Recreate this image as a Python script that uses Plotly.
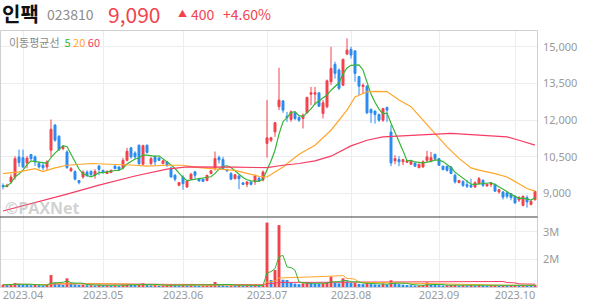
import pandas as pd
import plotly.graph_objects as go

# ---------------- data ----------------
holidays = ["2023-05-01", "2023-05-05", "2023-05-29", "2023-06-06", "2023-08-15",
            "2023-09-28", "2023-09-29", "2023-10-02", "2023-10-03", "2023-10-09"]
days = pd.bdate_range("2023-03-27", "2023-10-12", freq="C", holidays=holidays)
dates = [d.strftime("%Y-%m-%d") for d in days]

opens = [9330, 9290, 9480, 9680, 10500, 10470, 10250, 10600, 10500, 10230, 10160, 10090,
         10770, 11800, 11340, 10840, 10700, 9930, 9900, 9540, 9680, 9880,
         9910, 9750, 10130, 9950, 9820, 9860, 10130, 10090, 10050, 10360, 10870, 10660,
         10980, 10200, 10980, 10230, 10500, 10460, 10230, 10300, 10050, 9750, 9340, 9680,
         9270, 9590, 9890, 9610, 9590, 9540, 9820, 10050, 10470, 10390, 9980, 9820,
         9610, 9720, 9440, 9380, 9480, 9480, 9630, 9560,
         11050, 11180, 11520, 12550, 12790, 12160, 12030, 12300, 12110, 12070,
         12300, 13060, 13060, 13120, 12270, 12550, 13570, 14280, 14050, 13430, 14700, 14890,
         14830, 13780, 13370, 13390, 12440, 12370, 12230, 12000, 12520, 11520, 10340, 10390,
         10300, 10280, 10200, 10250, 10060, 10090, 10360, 10340, 10610, 10430, 10120, 10120,
         10090, 9750, 9450, 9500, 9370, 9340, 9270, 9410, 9550, 9310, 9370, 9380,
         9070, 9070, 9030, 9000, 8890, 8740, 8520, 8840, 8560, 8750]
highs = [9420, 9400, 9790, 10530, 10800, 10800, 10530, 10600, 10560, 10300, 10250, 10360,
         12030, 11840, 11390, 10980, 10770, 10090, 9950, 9550, 9950, 9950,
         9950, 10000, 10160, 9980, 9950, 9980, 10150, 10110, 10460, 10870, 10910, 10730,
         11000, 11000, 11000, 10500, 10570, 10480, 10360, 10330, 10090, 9800, 9480, 9750,
         9560, 9850, 9930, 9650, 9610, 9770, 9970, 10720, 10550, 10500, 10020, 9880,
         9800, 9750, 9470, 9500, 9500, 9790, 9700, 9950,
         12820, 11320, 11930, 14140, 12800, 12340, 12400, 12340, 12160, 12270,
         12960, 13360, 13360, 13120, 12820, 13660, 15000, 14390, 14110, 14520, 15340, 15000,
         14860, 13800, 13500, 13430, 12480, 12400, 12270, 12480, 12550, 11800, 10570, 10530,
         10390, 10360, 10340, 10270, 10220, 10360, 10750, 10700, 10610, 10450, 10150, 10130,
         10120, 9820, 9560, 9540, 9550, 9610, 9500, 9680, 9570, 9400, 9480, 9410,
         9200, 9100, 9070, 9000, 8930, 8900, 8930, 8930, 8720, 9120]
lows = [9170, 9260, 9410, 9570, 10090, 10040, 10040, 10360, 10130, 10020, 9950, 9950,
        10500, 11120, 10740, 10770, 10020, 9890, 9540, 9380, 9610, 9680,
        9700, 9610, 9750, 9820, 9800, 9840, 10000, 9970, 9990, 10320, 10430, 10400,
        10160, 10160, 10640, 10160, 10160, 10340, 10200, 10090, 9660, 9500, 9300, 9160,
        9230, 9560, 9610, 9490, 9480, 9500, 9790, 9950, 10230, 9970, 9900, 9550,
        9580, 9180, 9350, 9260, 9330, 9360, 9480, 9500,
        10470, 11100, 11320, 12410, 12300, 11930, 11930, 12000, 11930, 11660,
        12270, 12610, 12610, 12550, 12070, 12480, 13430, 13700, 13230, 13390, 14660, 14520,
        13570, 13020, 13090, 12250, 11890, 11860, 11930, 11930, 11930, 10120, 10200, 10120,
        10160, 10250, 10180, 10100, 10040, 10060, 10300, 10280, 10360, 10140, 9960, 9900,
        9800, 9410, 9420, 9270, 9230, 9230, 9230, 9380, 9270, 9300, 9270, 9070,
        9000, 8760, 8800, 8730, 8590, 8660, 8480, 8430, 8520, 8720]
closes = [9290, 9340, 9680, 10430, 10270, 10090, 10450, 10430, 10300, 10090, 10060, 10300,
          11630, 11180, 10800, 10910, 10060, 10020, 9590, 9450, 9880, 9750,
          9780, 9910, 9990, 9860, 9910, 9950, 10020, 9990, 10360, 10730, 10500, 10500,
          10230, 10960, 10680, 10430, 10300, 10360, 10340, 10160, 9680, 9590, 9450, 9410,
          9520, 9790, 9750, 9520, 9500, 9750, 9930, 10430, 10380, 10020, 9930, 9590,
          9770, 9610, 9380, 9480, 9380, 9720, 9520, 9880,
          11280, 11280, 11900, 12820, 12410, 12110, 12340, 12070, 12000, 12200,
          12930, 13120, 13120, 12570, 12710, 13610, 14110, 13910, 13300, 14480, 14860, 14660,
          13910, 13390, 13430, 12300, 12300, 12230, 12000, 12480, 12410, 10250, 10430, 10300,
          10390, 10340, 10320, 10120, 10200, 10300, 10500, 10470, 10430, 10160, 9980, 9950,
          9820, 9480, 9540, 9340, 9300, 9270, 9450, 9610, 9340, 9380, 9440, 9100,
          9160, 8860, 8890, 8840, 8620, 8840, 8890, 8660, 8690, 9090]
volumes = [1080000, 1070000, 1090000, 1140000, 1110000, 1090000, 1080000, 1060000, 1070000, 1060000, 1050000, 1070000,
           1430000, 1160000, 1100000, 1070000, 1310000, 1120000, 1090000, 1070000, 1080000, 1060000,
           1060000, 1050000, 1070000, 1050000, 1050000, 1040000, 1050000, 1040000, 1080000, 1100000, 1090000, 1070000,
           1110000, 1130000, 1090000, 1060000, 1070000, 1050000, 1050000, 1060000, 1080000, 1070000, 1050000, 1060000,
           1050000, 1060000, 1050000, 1040000, 1040000, 1050000, 1060000, 1180000, 1080000, 1070000, 1050000, 1060000,
           1050000, 1060000, 1040000, 1050000, 1040000, 1060000, 1050000, 1070000,
           3330000, 1250000, 1610000, 3240000, 1260000, 1250000, 1150000, 1120000, 1100000, 1130000,
           1160000, 1140000, 1120000, 1110000, 1130000, 1170000, 1370000, 1150000, 1130000, 1310000, 1200000, 1140000,
           1140000, 1110000, 1100000, 1180000, 1100000, 1090000, 1080000, 1120000, 1090000, 1240000, 1150000, 1100000,
           1080000, 1070000, 1060000, 1050000, 1050000, 1070000, 1160000, 1080000, 1070000, 1060000, 1050000, 1060000,
           1070000, 1080000, 1050000, 1060000, 1050000, 1060000, 1050000, 1070000, 1060000, 1040000, 1050000, 1060000,
           1050000, 1060000, 1050000, 1060000, 1070000, 1050000, 1060000, 1050000, 1040000, 1080000]

# moving averages (trading-day index, price)
ma20_idx = [0, 4, 8, 10, 13, 16, 22, 28, 33, 36, 41, 45, 49, 58, 64, 66, 70, 74, 78, 82, 86,
            88, 91, 93, 96, 99, 102, 105, 108, 111, 114, 117, 119, 123, 126, 129, 131, 133]
ma20_val = [9820, 9890, 10020, 9900, 10050, 10160, 10230, 10200, 10160, 10120, 10160, 10160, 10060,
            9950, 9710, 9680, 10090, 10610, 10980, 11590, 12410, 12950, 13160, 13180, 13170, 12820,
            12550, 12000, 11460, 10910, 10440, 10050, 9960, 9820, 9680, 9410, 9210, 9100]
ma60_idx = [0, 8, 16, 24, 33, 41, 46, 58, 66, 70, 74, 78, 82, 87, 91, 95, 99, 107, 112, 118,
            126, 129, 133]
ma60_val = [8290, 8620, 8980, 9350, 9720, 10000, 10090, 10080, 10060, 10160, 10230, 10340, 10530,
            10950, 11180, 11320, 11345, 11420, 11460, 11390, 11320, 11180, 10980]

name = "인팩"
code = "023810"
price_txt = "9,090"
change_txt = "400"
pct_txt = "+4.60%"

price_ticks = [9000, 10500, 12000, 13500, 15000]
vol_ticks = [2000000, 3000000]
vol_tick_text = ["2M", "3M"]

# ---------------- styling ----------------
RED = "#f2434d"
BLUE = "#2b8cf0"
C5, C20, C60 = "#35b535", "#ffa62b", "#f73c62"
W, H = 594, 304


def px(x):
    return x / W


def py(y):
    return 1 - y / H


x_dom = [px(1), px(537)]
price_dom = [py(217), py(30)]
vol_dom = [py(287), py(217)]

ma5 = pd.Series(closes).rolling(5, min_periods=1).mean()
vol_s = pd.Series(volumes)
vma5 = vol_s.rolling(5, min_periods=1).mean()
vma20 = vol_s.rolling(20, min_periods=1).mean()
vma60 = vol_s.rolling(60, min_periods=1).mean()
vol_colors = [RED if i == 0 or volumes[i] >= volumes[i - 1] else BLUE for i in range(len(volumes))]

fig = go.Figure()
fig.add_trace(go.Candlestick(
    x=dates, open=opens, high=highs, low=lows, close=closes,
    increasing=dict(line=dict(color=RED, width=1), fillcolor=RED),
    decreasing=dict(line=dict(color=BLUE, width=1), fillcolor=BLUE),
    whiskerwidth=0, xaxis="x", yaxis="y", hoverinfo="skip"))
fig.add_trace(go.Scatter(x=dates, y=ma5, mode="lines", line=dict(color=C5, width=1.2),
                         xaxis="x", yaxis="y", hoverinfo="skip"))
fig.add_trace(go.Scatter(x=[dates[i] for i in ma20_idx], y=ma20_val, mode="lines",
                         line=dict(color=C20, width=1.2), xaxis="x", yaxis="y", hoverinfo="skip"))
fig.add_trace(go.Scatter(x=[dates[i] for i in ma60_idx], y=ma60_val, mode="lines",
                         line=dict(color=C60, width=1.2), xaxis="x", yaxis="y", hoverinfo="skip"))

fig.add_trace(go.Bar(x=dates, y=volumes, marker=dict(color=vol_colors, line=dict(width=0)),
                     width=0.72, xaxis="x2", yaxis="y2", hoverinfo="skip"))
for s, c in [(vma60, C60), (vma20, C20), (vma5, C5)]:
    fig.add_trace(go.Scatter(x=dates, y=s, mode="lines", line=dict(color=c, width=1),
                             xaxis="x2", yaxis="y2", hoverinfo="skip"))

month_first = []
seen = set()
for d in dates:
    m = d[:7]
    if m not in seen:
        seen.add(m)
        month_first.append(d)
month_first = [d for d in month_first if d[:7] != "2023-03"]
month_text = [d[:7].replace("-", ".") for d in month_first]

axis_font = dict(family="Noto Sans, sans-serif", size=11, color="#9a9a9a")
xr = [-0.5, len(dates) - 0.5]
fig.update_layout(
    width=W, height=H, margin=dict(l=0, r=0, t=0, b=0),
    paper_bgcolor="white", plot_bgcolor="white", showlegend=False,
    xaxis=dict(domain=x_dom, anchor="y", type="category", range=xr, tickvals=month_first,
               ticktext=[""] * len(month_first), showgrid=True, gridcolor="#ededed", gridwidth=1,
               ticks="", showline=False, zeroline=False, rangeslider=dict(visible=False)),
    yaxis=dict(domain=price_dom, anchor="x", side="right", range=[8046, 15683],
               tickvals=price_ticks, tickformat=",d", tickfont=axis_font, showgrid=True,
               gridcolor="#ededed", ticks="", zeroline=False, showline=False,
               ticklabelstandoff=5),
    xaxis2=dict(domain=x_dom, anchor="y2", type="category", range=xr, tickvals=month_first,
                ticktext=month_text, tickfont=axis_font, showgrid=True, gridcolor="#ededed",
                ticks="", showline=False, zeroline=False),
    yaxis2=dict(domain=vol_dom, anchor="x2", side="right", range=[996000, 3533000],
                tickvals=vol_ticks, ticktext=vol_tick_text, tickfont=axis_font, showgrid=True,
                gridcolor="#ededed", ticks="", zeroline=False, showline=False,
                ticklabelstandoff=5),
    bargap=0.2,
)

shapes = [
    dict(type="rect", xref="paper", yref="paper", x0=px(0.5), x1=px(537.5), y0=py(287.5), y1=py(30.5),
         line=dict(color="#cfcfcf", width=1), fillcolor="rgba(0,0,0,0)", layer="above"),
    dict(type="line", xref="paper", yref="paper", x0=px(0), x1=px(537.5), y0=py(217), y1=py(217),
         line=dict(color="#3c3c3c", width=1.2), layer="above"),
]
fig.update_layout(shapes=shapes)

KR = "Noto Sans CJK KR, sans-serif"
ann = [
    dict(text="<b>" + name + "</b>", x=px(0), y=py(14), font=dict(family=KR, size=20, color="#111")),
    dict(text=code, x=px(45), y=py(14), font=dict(family=KR, size=14, color="#8c8c8c")),
    dict(text=price_txt, x=px(106), y=py(14), font=dict(family=KR, size=21, color=RED)),
    dict(text="▲", x=px(176), y=py(13.5), font=dict(family=KR, size=9, color=RED)),
    dict(text=change_txt, x=px(189), y=py(14), font=dict(family=KR, size=14, color=RED)),
    dict(text=pct_txt, x=px(221), y=py(14), font=dict(family=KR, size=14, color=RED)),
    dict(text="이동평균선  <span style='color:%s'>5</span> <span style='color:%s'>20</span> "
              "<span style='color:%s'>60</span>" % (C5, C20, C60),
         x=px(7), y=py(42), font=dict(family=KR, size=11, color="#8a8a8a")),
    dict(text="<b>©PAXNet</b>", x=px(3), y=py(208), font=dict(family="Open Sans, sans-serif", size=16,
                                                             color="rgba(170,170,170,0.55)")),
]
for a in ann:
    a.update(xref="paper", yref="paper", xanchor="left", yanchor="middle", showarrow=False)
fig.update_layout(annotations=ann)

fig.write_html("out.html")
